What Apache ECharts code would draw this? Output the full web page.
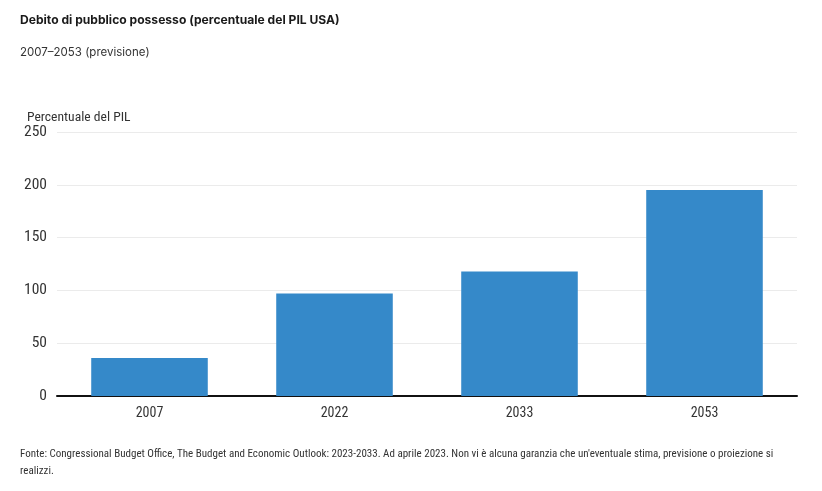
<!DOCTYPE html>
<html><head><meta charset="utf-8">
<script src="https://cdn.jsdelivr.net/npm/echarts@6/dist/echarts.min.js"></script>
<style>html,body{margin:0;padding:0;background:#fff}#c{width:822px;height:491px}</style>
</head><body><div id="c"></div>
<script>
const categories = ['2007', '2022', '2033', '2053'];
const values = [36, 97, 118, 195];
const yTicks = [0, 50, 100, 150, 200, 250];

const narrow = '"Roboto Condensed", "Liberation Sans Narrow", "Roboto", sans-serif';
const chart = echarts.init(document.getElementById('c'));
chart.setOption({
  animation: false,
  backgroundColor: '#fff',
  title: [
    {text: 'Debito di pubblico possesso (percentuale del PIL USA)', left: 20, top: 14, padding: 0,
     textStyle: {fontFamily: 'Inter, "Noto Sans", sans-serif', fontSize: 12.1, fontWeight: 'bold', color: '#1a1a1a'}},
    {text: '2007–2053 (previsione)', left: 20, top: 47, padding: 0,
     textStyle: {fontFamily: 'Inter, "Noto Sans", sans-serif', fontSize: 11.5, fontWeight: 'normal', color: '#333'}},
    {text: 'Percentuale del PIL', left: 27, top: 111, padding: 0,
     textStyle: {fontFamily: narrow, fontSize: 13.6, fontWeight: 'normal', color: '#333'}},
    {text: 'Fonte: Congressional Budget Office, The Budget and Economic Outlook: 2023-2033. Ad aprile 2023. Non vi è alcuna garanzia che un\'eventuale stima, previsione o proiezione si\nrealizzi.',
     left: 20, top: 446, padding: 0,
     textStyle: {fontFamily: narrow, fontSize: 11, fontWeight: 'normal', color: '#333', lineHeight: 17}}
  ],
  grid: {left: 57, right: 25, top: 132, bottom: 95},
  xAxis: {
    type: 'category', data: categories,
    axisLine: {lineStyle: {color: '#111', width: 2}},
    axisTick: {show: false},
    axisLabel: {fontFamily: narrow, fontSize: 14, color: '#333', margin: 10}
  },
  yAxis: {
    type: 'value', min: 0, max: 250, interval: 50,
    axisLine: {show: false}, axisTick: {show: false},
    splitLine: {lineStyle: {color: '#ebebeb', width: 1}},
    axisLabel: {fontFamily: narrow, fontSize: 15.5, color: '#333', margin: 10,
      formatter: v => yTicks.includes(v) ? String(v) : ''}
  },
  series: [{
    type: 'bar', data: values, barWidth: '63%',
    itemStyle: {color: '#3589c9'}
  }]
});
</script></body></html>
